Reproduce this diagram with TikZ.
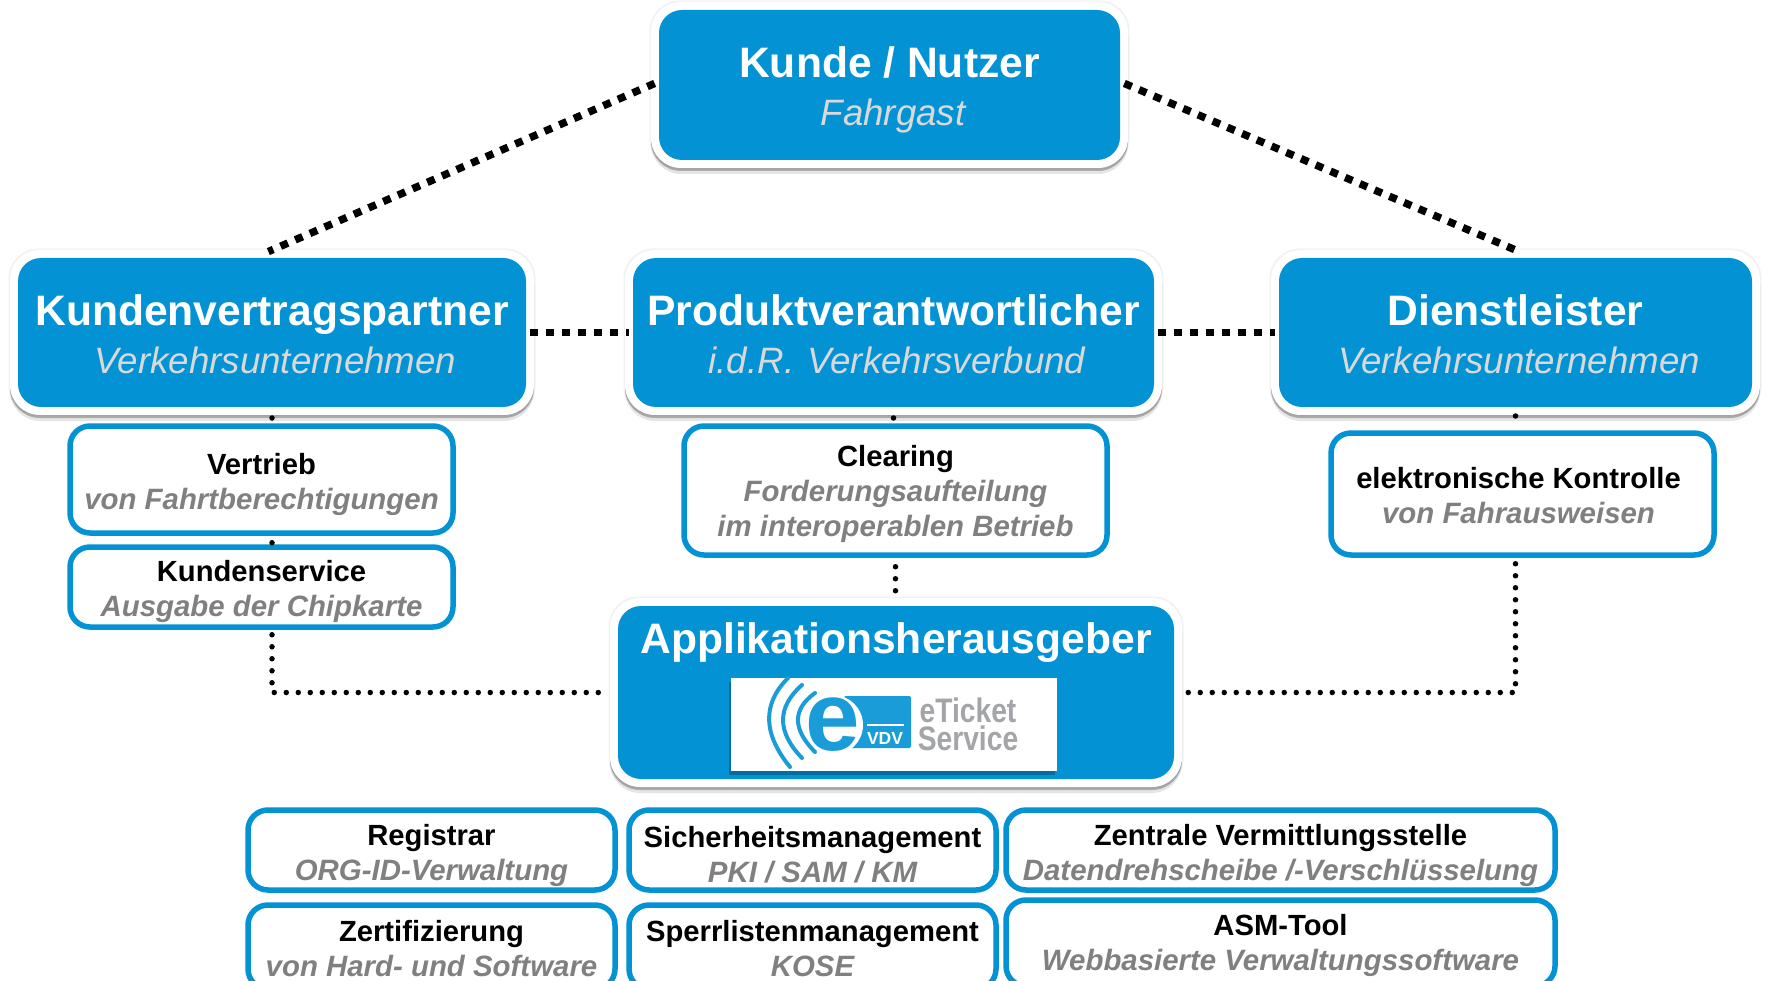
\documentclass[tikz,border=0pt]{standalone}
\usepackage{fontspec}
\setmainfont{Liberation Sans}
\definecolor{vdvblue}{HTML}{0392D4}
\definecolor{logoblue}{HTML}{1A9CD8}
\definecolor{subgray}{HTML}{808080}
\definecolor{sublight}{HTML}{D9D9D9}
\definecolor{logogray}{HTML}{A3A5A8}
\newcommand{\maintitle}[3][1.5]{{\rule{0pt}{\dimexpr32pt+#1pt+#1pt\relax}\fontsize{42.6}{48}\selectfont\bfseries\color{white}#2}\\{\hspace*{7pt}\fontsize{36.7}{48}\selectfont\itshape\color{sublight}#3}}
\newcommand{\subgrayline}[1]{{\fontsize{29.4}{35}\selectfont\bfseries\itshape\color{subgray}#1}}
\newcommand{\subtitle}[3][0]{{\rule{0pt}{\dimexpr22pt+#1pt+#1pt\relax}\fontsize{29.2}{35}\selectfont\bfseries\color{black}#2}\\\subgrayline{#3}}
\tikzset{
  boxshadow/.style={rectangle,rounded corners=30pt,fill=black,inner sep=0pt,outer sep=0pt},
  bluerim/.style={rectangle,rounded corners=30pt,fill=white,inner sep=0pt,outer sep=0pt},
  bluefill/.style={rectangle,rounded corners=23pt,fill=vdvblue,inner sep=0pt,outer sep=0pt,align=center,font=\fontsize{36}{48}\selectfont},
  whitebox/.style={rectangle,rounded corners=20pt,draw=vdvblue,line width=5.5pt,fill=white,inner sep=0pt,align=center,font=\fontsize{29}{35}\selectfont},
  thickdots/.style={line width=7.5pt,dash pattern=on 8pt off 8pt,black,shorten <=-4pt,shorten >=-4pt},
  smalldots/.style={line width=5.5pt,line cap=round,dash pattern=on 0pt off 12pt,black},
}
% name, centre x, centre y, outer width, outer height, text
\newcommand{\bluecard}[6]{%
  \node[boxshadow,opacity=.05,minimum width=#4pt+3pt,minimum height=#5pt+3pt] (#1-glow) at (#2,#3) {};
  \node[boxshadow,opacity=.10,minimum width=#4pt,minimum height=#5pt] (#1-shadowa) at ([yshift=-6pt]#2,#3) {};
  \node[boxshadow,opacity=.25,minimum width=#4pt,minimum height=#5pt] (#1-shadowb) at ([yshift=-3pt]#2,#3) {};
  \node[bluerim,minimum width=#4pt,minimum height=#5pt] (#1) at (#2,#3) {};
  \node[bluefill,minimum width=#4pt-16pt,minimum height=#5pt-16pt] (#1-fill) at (#2,#3) {#6};
}
\begin{document}
\begin{tikzpicture}[x=1pt,y=-1pt]
\useasboundingbox (0,0) rectangle (1767,981);
\clip (0,0) rectangle (1767,981);
% main boxes
\bluecard{top}{889.5}{85}{477}{166}{\maintitle[4]{Kunde / Nutzer}{Fahrgast}}
\bluecard{kv}{272}{332.5}{524}{165}{\maintitle{Kundenvertragspartner}{Verkehrsunternehmen}}
\bluecard{pv}{893.5}{332.5}{537}{165}{\maintitle{Produktverantwortlicher}{i.d.R.\hspace{13pt}Verkehrsverbund}}
\bluecard{dl}{1515.5}{332.5}{489}{165}{\maintitle{Dienstleister}{Verkehrsunternehmen}}
\bluecard{app}{896}{692.5}{572}{189}{}
\node[font=\fontsize{42.6}{48}\selectfont\bfseries,text=white,inner sep=0pt] (apptitle) at (896,643) {Applikationsherausgeber};
% service boxes
\node[whitebox,minimum width=383pt,minimum height=107pt] (vertrieb) at (261.5,479.5) {\subtitle[4.5]{Vertrieb}{von Fahrtberechtigungen}};
\node[whitebox,minimum width=383pt,minimum height=80pt] (service) at (261.5,587) {\subtitle[4]{Kundenservice}{Ausgabe der Chipkarte}};
\node[whitebox,minimum width=423pt,minimum height=129pt] (clearing) at (895.5,490.5) {\subtitle[3.5]{Clearing}{Forderungsaufteilung}\\\subgrayline{im interoperablen Betrieb}};
\node[whitebox,minimum width=383pt,minimum height=122pt] (kontrolle) at (1522.5,494) {};
\node[inner sep=0pt,align=center,font=\fontsize{29}{35}\selectfont] (kontrolletext) at (1518.5,495) {\subtitle{elektronische Kontrolle}{von Fahrausweisen}};
\node[whitebox,minimum width=367pt,minimum height=80pt] (registrar) at (431.5,850) {\subtitle[5]{Registrar}{ORG-ID-Verwaltung}};
\node[whitebox,minimum width=367pt,minimum height=80pt] (sicherheit) at (812.5,850) {\subtitle[4]{Sicherheitsmanagement}{PKI / SAM / KM}};
\node[whitebox,minimum width=549pt,minimum height=80pt] (zentrale) at (1280.5,850) {\subtitle[5]{Zentrale Vermittlungsstelle}{Datendrehscheibe /-Verschlüsselung}};
\node[whitebox,minimum width=367pt,minimum height=84pt] (zert) at (431.5,947) {\subtitle[1]{Zertifizierung}{von Hard- und Software}};
\node[whitebox,minimum width=367pt,minimum height=84pt] (sperr) at (812.5,947) {\subtitle[1]{Sperrlistenmanagement}{KOSE}};
\node[whitebox,minimum width=549pt,minimum height=86pt] (asm) at (1280.5,943) {\subtitle[2.5]{ASM-Tool}{Webbasierte Verwaltungssoftware}};
% connectors
\draw[thickdots] (top.west) -- (kv.north);
\draw[thickdots] (top.east) -- (dl.north);
\draw[thickdots] (kv.east) -- (pv.west);
\draw[thickdots] (pv.east) -- (dl.west);
\draw[smalldots,shorten <=3pt,shorten >=6pt] (kv.south) -- (vertrieb.north -| kv.south);
\draw[smalldots,shorten <=7pt,shorten >=6pt] (vertrieb.south -| kv.south) -- (service.north -| kv.south);
\draw[smalldots,shorten <=5pt,shorten >=4pt] (service.south -| kv.south) |- (app.west);
\draw[smalldots,shorten <=3pt,shorten >=6pt] (pv.south) -- (clearing.north -| pv.south);
\draw[smalldots,shorten <=9pt,shorten >=7pt] (clearing.south) -- (clearing.south |- app.north);
\draw[smalldots,shorten <=1pt,shorten >=6pt] (dl.south) -- (kontrolle.north -| dl.south);
\draw[smalldots,shorten <=6pt,shorten >=6pt] (kontrolle.south -| dl.south) |- (app.east);
% logo
\node[rectangle,fill=black,opacity=.25,minimum width=326pt,minimum height=93pt,inner sep=0pt] (logoshadow) at (892,728.5) {};
\node[rectangle,fill=white,minimum width=326pt,minimum height=93pt,inner sep=0pt] (logo) at (894,724.5) {};
\fill[logoblue,rounded corners=2pt] (844,696) rectangle (911,748);
\fill[white] (833,725) circle (30);
\node[font=\fontsize{98}{98}\selectfont\bfseries,text=logoblue,inner sep=0pt] (loge) at (833,725) {e};
\draw[white,line width=2pt] (867,725) -- (904,725);
\node[font=\fontsize{17.5}{17.5}\selectfont\bfseries,text=white,inner sep=0pt] (logvdv) at (885,738) {VDV};
\draw[logoblue,line width=4pt,line cap=round] (788,678) .. controls (762,704) and (763,734) .. (790,767);
\draw[logoblue,line width=4pt,line cap=round] (802,685) .. controls (776.7,707.3) and (776.7,731.7) .. (802,758);
\draw[logoblue,line width=4pt,line cap=round] (815,693) .. controls (792.3,709.3) and (792.3,729) .. (815,752);
\node[font=\fontsize{34}{34}\selectfont\bfseries,text=logogray,inner sep=0pt,xscale=.83] (logticket) at (968,710) {eTicket};
\node[font=\fontsize{34}{34}\selectfont\bfseries,text=logogray,inner sep=0pt,xscale=.83] (logservice) at (968,738) {Service};
\end{tikzpicture}
\end{document}
